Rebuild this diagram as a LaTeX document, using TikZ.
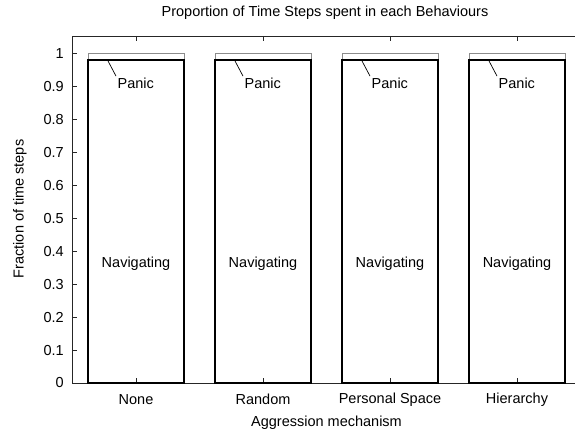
\documentclass[tikz,border=0pt]{standalone}
\usepackage{fontspec}
\setmainfont{Liberation Sans}
\begin{document}
\begin{tikzpicture}[x=1pt,y=-1pt,
  axisline/.style={draw=black!85,line width=0.9pt},
  panicbox/.style={draw=black!45,line width=0.9pt},
  navbox/.style={draw=black,line width=2pt},
  lab/.style={font=\fontsize{14.5}{17}\selectfont,inner sep=0pt},
  leader/.style={draw=black,line width=0.7pt}]
\useasboundingbox (0,0) rectangle (575,436);
% frame
\draw[axisline] (575,36) -- (72,36) -- (72,383) -- (575,383);
% y ticks
\foreach \v [count=\i] in {0,0.1,0.2,0.3,0.4,0.5,0.6,0.7,0.8,0.9,1} {
  \draw[axisline] (72,{383-329.7*\v}) -- ++(5,0);
  \node[lab,anchor=east] (yl\i) at (64,{383-329.7*\v}) {\v};
}
% bars
\foreach \c/\n [count=\i] in {136/None,263/Random,390/Personal Space,517/Hierarchy} {
  \draw[axisline] (\c,383) -- ++(0,-5);
  \draw[axisline] (\c,36) -- ++(0,5);
  \draw[panicbox] ({\c-48},59.6) rectangle ({\c+48},53.3);
  \draw[navbox] ({\c-48},383) rectangle ({\c+48},59.6);
  \node[lab] (nav\i) at (\c,263.5) {Navigating};
  \node[lab,anchor=north west] (pan\i) at ({\c-18.5},77.3) {Panic};
  \coordinate (pt\i) at ({\c-28.5},60);
  \draw[leader] (pt\i) -- ([xshift=-1.5pt,yshift=1.2pt]pan\i.north west);
  \node[lab] (xl\i) at (\c,399.5) {\n};
}
\node[lab] (xlabel) at (326.5,422.7) {Aggression mechanism};
\node[lab,rotate=90] (ylabel) at (20,209) {Fraction of time steps};
\node[lab] (title) at (325,12.7) {Proportion of Time Steps spent in each Behaviours};
\end{tikzpicture}
\end{document}
